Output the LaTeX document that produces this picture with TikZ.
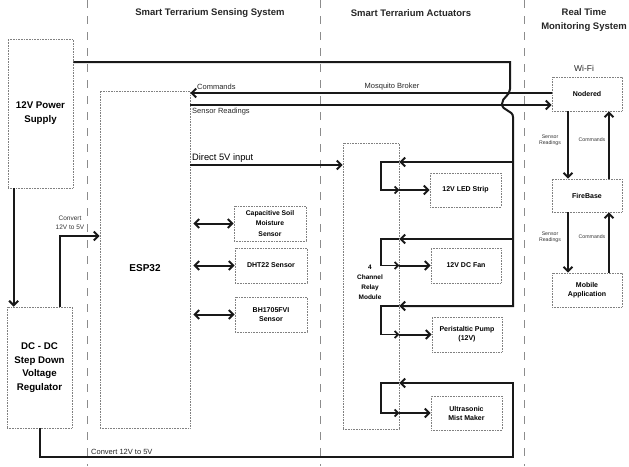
\documentclass[tikz,border=0pt]{standalone}
\usepackage{fontspec}
\setmainfont{Liberation Sans}
\usetikzlibrary{arrows.meta,calc}
\begin{document}
\begin{tikzpicture}[x=1pt,y=-1pt,
 box/.style={draw=black!50, line width=0.6pt, densely dotted, align=center, inner sep=0pt, font=\fontsize{7}{9}\selectfont\bfseries},
 wire/.style={line width=2pt, black!90},
 arr/.style={wire, -{Straight Barb[length=4.5pt,width=9pt]}},
 darr/.style={wire, {Straight Barb[length=4.5pt,width=9pt]}-{Straight Barb[length=4.5pt,width=9pt]}},
 sarr/.style={wire, line width=1.7pt, -{Straight Barb[length=3.5pt,width=7pt]}},
 sep/.style={draw=black!45, line width=0.8pt, dash pattern=on 8pt off 8pt},
 hdr/.style={font=\fontsize{9.5}{14}\selectfont\bfseries, align=center, inner sep=0pt, text=black!85},
 lbl/.style={font=\fontsize{7.5}{9}\selectfont, inner sep=0pt, text=black!85},
 tiny/.style={font=\fontsize{5.2}{6.5}\selectfont, inner sep=0pt, align=center, text=black!80}
]
\useasboundingbox (0,0) rectangle (629,466);
% separators
\draw[sep] (87,0) -- (87,466);
\draw[sep] (320,0) -- (320,466);
\draw[sep] (524,0) -- (524,466);
% headers
\node[hdr] (h1) at (210,13) {Smart Terrarium Sensing System};
\node[hdr] (h2) at (411,13) {Smart Terrarium Actuators};
\node[hdr] (h3) at (584,20) {Real Time\\Monitoring System};
% boxes
\node[box, minimum width=65pt, minimum height=149pt, font=\fontsize{9.7}{14}\selectfont\bfseries] (ps) at (40.5,113.5) {12V Power\\Supply};
\node[box, minimum width=65pt, minimum height=121pt, font=\fontsize{9.7}{13.5}\selectfont\bfseries] (dc) at (39.5,367.5) {DC - DC\\Step Down\\Voltage\\Regulator};
\node[box, minimum width=90pt, minimum height=337pt] (esp) at (145,259.5) {};
\node[font=\fontsize{10}{12}\selectfont\bfseries] (esptxt) at (145,268) {ESP32};
\node[box, minimum width=56pt, minimum height=286pt] (relay) at (371,286) {};
\node[font=\fontsize{6.5}{10}\selectfont\bfseries, align=center] (relaytxt) at (370,282) {4\\Channel\\Relay\\Module};
\node[box, minimum width=72pt, minimum height=35pt, font=\fontsize{6.8}{10.5}\selectfont\bfseries] (cap) at (270,223.5) {Capacitive Soil\\Moisture\\Sensor};
\node[box, minimum width=72pt, minimum height=35pt] (dht) at (271,265.5) {DHT22 Sensor};
\node[box, minimum width=72pt, minimum height=35pt] (bh) at (271,314.5) {BH1705FVI\\Sensor};
\node[box, minimum width=71pt, minimum height=34pt] (led) at (465.5,190) {12V LED Strip};
\node[box, minimum width=70pt, minimum height=35pt] (fan) at (466,265.5) {12V DC Fan};
\node[box, minimum width=70pt, minimum height=35pt] (pump) at (467,334.5) {Peristaltic Pump\\(12V)};
\node[box, minimum width=71pt, minimum height=34pt] (mist) at (466.5,413) {Ultrasonic\\Mist Maker};
\node[box, minimum width=70pt, minimum height=34pt] (nr) at (587,94) {Nodered};
\node[box, minimum width=70pt, minimum height=33pt] (fb) at (587,195.5) {FireBase};
\node[box, minimum width=70pt, minimum height=34pt] (mob) at (587,290) {Mobile\\Application};
\node[font=\fontsize{8.5}{10}\selectfont, text=black!85] (wifi) at (584,68) {Wi-Fi};
% power supply to regulator
\draw[arr] ([xshift=6pt]ps.south west) -- ([xshift=7pt]dc.north west);
% regulator to esp32
\draw[arr] ([xshift=53pt]dc.north west) |- (esp.west |- 0,236);
\node[font=\fontsize{6.5}{9}\selectfont, align=center, text=black!80] (cv1) at (70,223) {Convert\\12V to 5V};
% mqtt lines
\draw[arr] (nr.west |- 0,93) -- (esp.east |- 0,93);
\draw[arr] (esp.east |- 0,105) -- (nr.west |- 0,105);
\node[lbl, anchor=west] (lc) at (197,87) {Commands};
\node[lbl] (lm) at (392,87) {Mosquito Broker};
\node[lbl, anchor=west] (ls) at (192,112) {Sensor Readings};
% 12V power line
\coordinate (j1) at (513,162);
\coordinate (j2) at (513,239);
\draw[arr] (ps.east |- 0,62) -- (510,62) -- (510,89) .. controls (510,96) and (502,97) .. (502,104) .. controls (502,111) and (513,110) .. (513,117) -- (513,306) -- (relay.east |- 0,306);
\draw[arr] (j1) -- (relay.east |- j1);
\draw[arr] (j2) -- (relay.east |- j2);
% 5V line from regulator
\draw[arr] (dc.south) -- (dc.south |- 0,457) -- (513,457) -- (513,383) -- (relay.east |- 0,383);
\node[lbl, anchor=west] (cv2) at (91,452) {Convert 12V to 5V};
% direct 5V
\draw[arr] (esp.east |- 0,165) -- (relay.west |- 0,165);
\node[font=\fontsize{9.3}{11}\selectfont, anchor=west, inner sep=0pt] (l5) at (192,158) {Direct 5V input};
% relay loops
\foreach \yi/\dev in {162/led, 239/fan, 306/pump, 383/mist}{
  \draw[sarr] (relay.east |- 0,\yi) -- (381,\yi) -- (381,0 |- \dev.west) -- (relay.east |- \dev.west);
  \draw[arr] (relay.east |- \dev.west) -- (\dev.west);
}
% sensors
\draw[darr, shorten <=3pt] (esp.east |- cap.west) -- (cap.west);
\draw[darr, shorten <=3pt] (esp.east |- dht.west) -- (dht.west);
\draw[darr, shorten <=3pt] (esp.east |- bh.west) -- (bh.west);
% cloud
\draw[arr] (nr.south -| 568,0) -- (fb.north -| 568,0);
\draw[arr] (fb.north -| 609,0) -- (nr.south -| 609,0);
\draw[arr] (fb.south -| 568,0) -- (mob.north -| 568,0);
\draw[arr] (mob.north -| 609,0) -- (fb.south -| 609,0);
\node[tiny] (t1) at (550,140) {Sensor\\Readings};
\node[tiny] (t2) at (592,140) {Commands};
\node[tiny] (t3) at (550,237) {Sensor\\Readings};
\node[tiny] (t4) at (592,237) {Commands};
\end{tikzpicture}
\end{document}
